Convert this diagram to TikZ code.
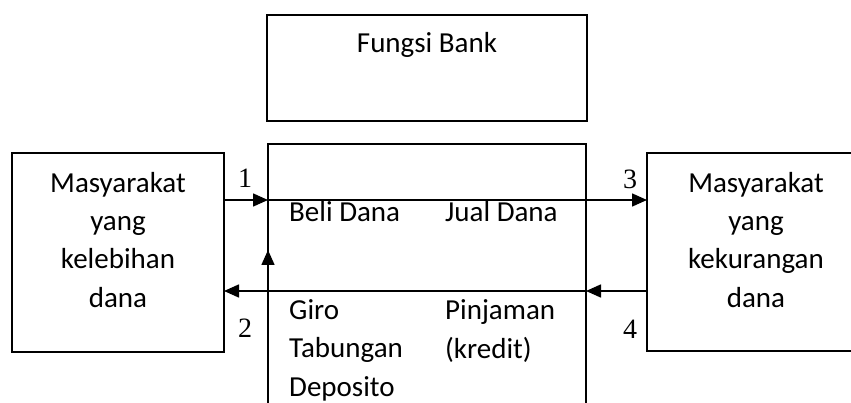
\documentclass[tikz,border=0pt]{standalone}
\usepackage{fontspec}
\setmainfont{Carlito}
\newfontfamily\numfont{Liberation Serif}
\usetikzlibrary{arrows.meta}
\tikzset{
  box/.style={draw, line width=1.6pt, outer sep=0pt, inner sep=0pt},
  arr/.style={line width=1.6pt, -{Triangle[length=15pt,width=13pt]}},
  txt/.style={inner sep=0pt, font=\fontsize{29}{38.3}\selectfont},
  num/.style={inner sep=0pt, font=\numfont\fontsize{28}{30}\selectfont, anchor=base}
}
\begin{document}
\begin{tikzpicture}[x=1pt,y=-1pt]
\useasboundingbox (0,0) rectangle (851,403);
\clip (0,0) rectangle (851,403);
\fill[white] (0,0) rectangle (851,403);
% boxes
\node[box, minimum width=320pt, minimum height=106pt] (T) at (427,68) {};
\node[box, minimum width=318pt, minimum height=290pt] (C) at (427,289) {};
\node[box, minimum width=212pt, minimum height=199pt] (L) at (118,252.5) {};
\node[box, minimum width=230pt, minimum height=198pt] (R) at (762,252) {};
% texts (multi-line nodes: base = last line)
\node[txt, anchor=base] (tf) at (427,53) {Fungsi Bank};
\node[txt, anchor=base, align=center] (tl) at (118,307) {Masyarakat\\yang\\kelebihan\\dana};
\node[txt, anchor=base, align=center] (tr) at (756,307) {Masyarakat\\yang\\kekurangan\\dana};
\node[txt, anchor=base west] (tb) at (289,222) {Beli Dana};
\node[txt, anchor=base west] (tj) at (445,222) {Jual Dana};
\node[txt, anchor=base west, align=left] (tg) at (289,396) {Giro\\Tabungan\\Deposito};
\node[txt, anchor=base west, align=left] (tp) at (445,358) {Pinjaman\\(kredit)};
% numbers
\node[num] (n1) at (245,188) {1};
\node[num] (n2) at (245,337) {2};
\node[num] (n3) at (630,189) {3};
\node[num] (n4) at (630,338) {4};
% connectors
\coordinate (ya) at (0,200);
\coordinate (yb) at (0,291);
\coordinate (yv) at (0,250);
\draw[arr] (L.east |- ya) -- (C.west |- ya);
\draw[arr] (C.west |- ya) -- (R.west |- ya);
\draw[arr] (R.west |- yb) -- (C.east |- yb);
\draw[arr] (C.east |- yb) -- (L.east |- yb);
\draw[arr] (C.south west) -- (C.west |- yv);
\end{tikzpicture}
\end{document}
